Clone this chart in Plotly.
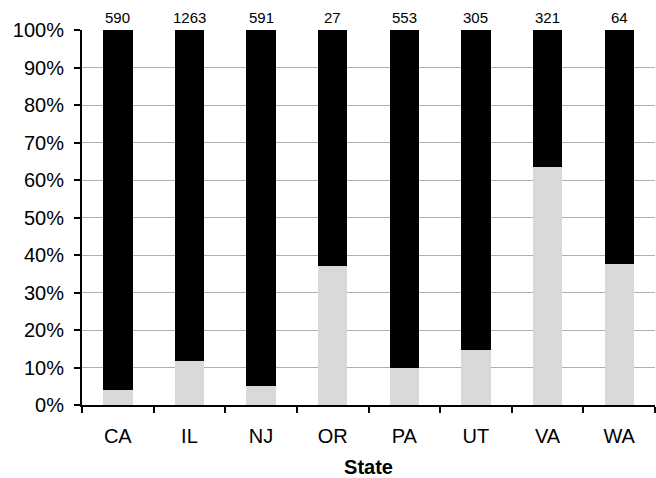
import plotly.graph_objects as go

states = ["CA", "IL", "NJ", "OR", "PA", "UT", "VA", "WA"]
totals = [590, 1263, 591, 27, 553, 305, 321, 64]
grey_pct = [4.1, 11.7, 5.1, 37.0, 9.8, 14.8, 63.6, 37.5]
black_pct = [100 - g for g in grey_pct]

fig = go.Figure()
fig.add_bar(x=states, y=grey_pct, marker=dict(color="#d9d9d9", line=dict(width=0)), showlegend=False)
fig.add_bar(x=states, y=black_pct, marker=dict(color="#000000", line=dict(width=0)), showlegend=False)

for s, t in zip(states, totals):
    fig.add_annotation(x=s, y=100, text=str(t), showarrow=False, yanchor="bottom", yshift=2,
                       font=dict(family="Liberation Sans, Arial", size=15, color="#000"))

fig.update_layout(
    barmode="stack", bargap=0.59,
    width=656, height=478,
    margin=dict(l=82, r=1, t=30, b=73),
    paper_bgcolor="white", plot_bgcolor="white",
    font=dict(family="Liberation Sans, Arial", color="#000"),
)
fig.update_yaxes(range=[0, 100], dtick=10, ticksuffix="%", showgrid=True, gridcolor="#b0b0b0", gridwidth=1,
                 showline=True, linecolor="#000", linewidth=2, ticks="outside", ticklen=6, tickwidth=1.5,
                 tickcolor="#000", tickfont=dict(size=20), ticklabelstandoff=6, zeroline=False)
fig.update_xaxes(showline=True, linecolor="#000", linewidth=2, ticks="outside", ticklen=6, tickwidth=1.5,
                 tickcolor="#000", tickson="boundaries", tickfont=dict(size=20), ticklabelstandoff=12,
                 title=dict(text="<b>State</b>", font=dict(size=20), standoff=14))

fig.write_html("out.html", config={"displayModeBar": False},
               post_script="document.body.style.margin='0';document.body.style.overflow='hidden';")
